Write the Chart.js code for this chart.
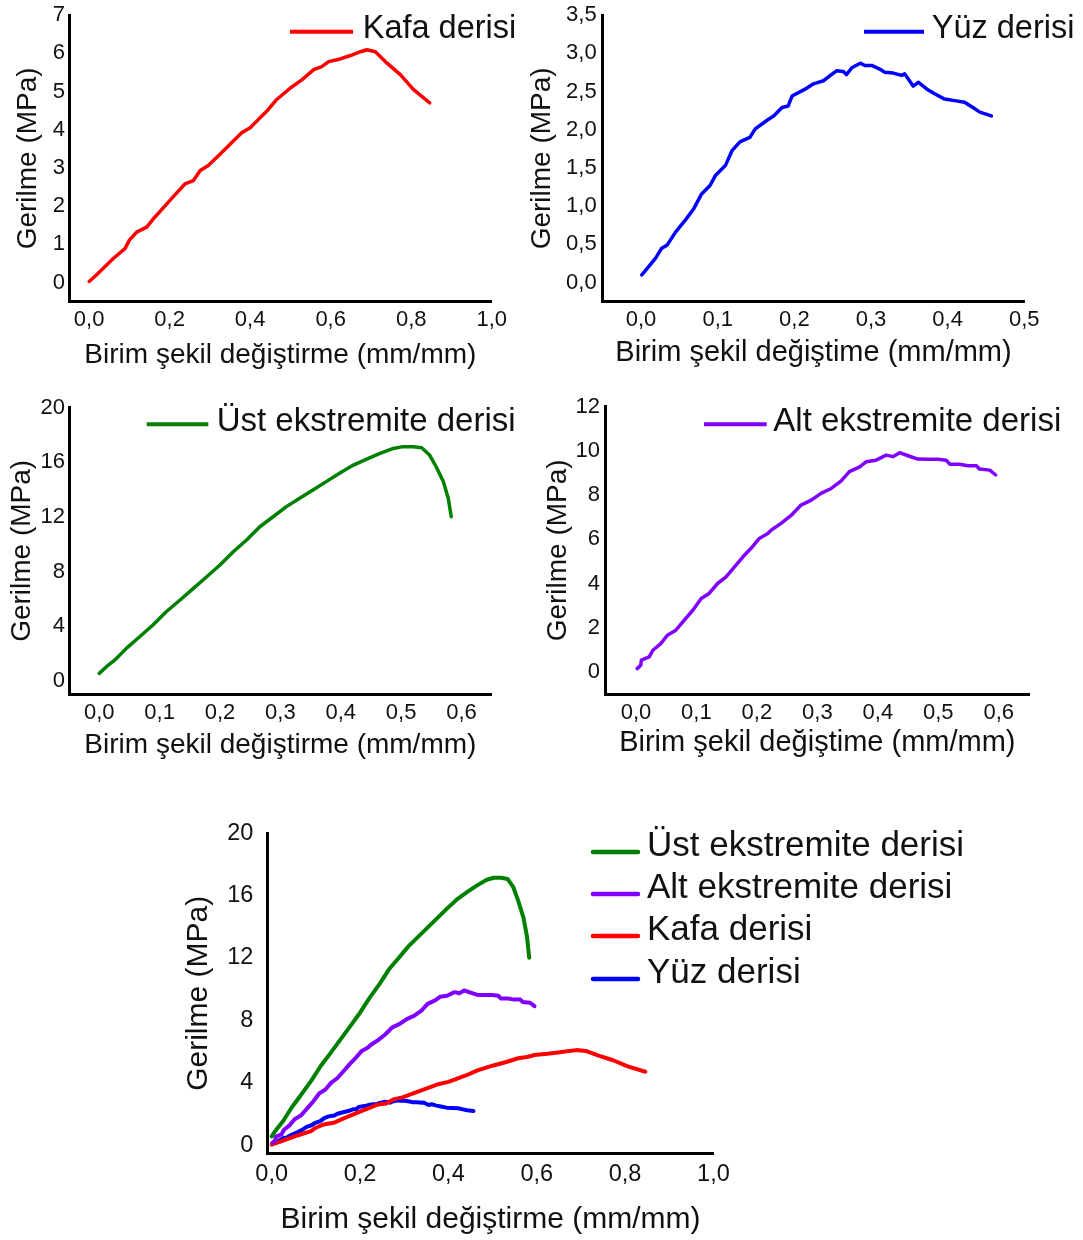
<!DOCTYPE html>
<html>
<head>
<meta charset="utf-8">
<script src="https://cdn.jsdelivr.net/npm/chart.js@4.4.1/dist/chart.umd.min.js"></script>
<style>
  html, body { margin: 0; padding: 0; background: #ffffff; }
  body { position: relative; width: 1083px; height: 1240px; overflow: hidden; }
  canvas { position: absolute; }
</style>
</head>
<body>
<canvas id="c1"></canvas>
<canvas id="c2"></canvas>
<canvas id="c3"></canvas>
<canvas id="c4"></canvas>
<canvas id="c5"></canvas>
<script>
// ---------------- DATA ----------------
const seriesNames = ['Kafa derisi', 'Yüz derisi', 'Üst ekstremite derisi', 'Alt ekstremite derisi'];

// Kafa derisi (scalp)
const kafaX = [0, 0.018, 0.06, 0.089, 0.10, 0.118, 0.143, 0.163, 0.193, 0.217, 0.238, 0.259, 0.276, 0.296, 0.325, 0.359, 0.379, 0.40, 0.417, 0.441, 0.466, 0.50, 0.529, 0.558, 0.578, 0.595, 0.624, 0.649, 0.674, 0.69, 0.711, 0.74, 0.773, 0.806, 0.846];
const kafaY = [0.03, 0.2, 0.63, 0.89, 1.11, 1.32, 1.45, 1.71, 2.06, 2.34, 2.58, 2.67, 2.93, 3.06, 3.36, 3.71, 3.92, 4.05, 4.23, 4.48, 4.79, 5.09, 5.31, 5.57, 5.65, 5.78, 5.85, 5.94, 6.04, 6.09, 6.04, 5.74, 5.44, 5.05, 4.70];

// Yüz derisi (face)
const yuzX = [0.001, 0.01, 0.019, 0.027, 0.034, 0.045, 0.058, 0.069, 0.079, 0.09, 0.097, 0.11, 0.119, 0.129, 0.142, 0.149, 0.164, 0.173, 0.184, 0.192, 0.197, 0.214, 0.225, 0.238, 0.247, 0.255, 0.264, 0.268, 0.275, 0.286, 0.292, 0.301, 0.312, 0.318, 0.329, 0.34, 0.344, 0.355, 0.362, 0.373, 0.383, 0.396, 0.409, 0.422, 0.433, 0.442, 0.457];
const yuzY = [0.10, 0.21, 0.32, 0.45, 0.49, 0.66, 0.82, 0.97, 1.16, 1.27, 1.40, 1.53, 1.73, 1.84, 1.90, 2.01, 2.12, 2.18, 2.29, 2.31, 2.44, 2.53, 2.60, 2.64, 2.71, 2.77, 2.76, 2.72, 2.81, 2.87, 2.84, 2.84, 2.79, 2.75, 2.74, 2.71, 2.73, 2.57, 2.62, 2.53, 2.47, 2.40, 2.38, 2.36, 2.29, 2.23, 2.18];

// Üst ekstremite derisi (upper extremity)
const ustX = [0, 0.012, 0.026, 0.045, 0.067, 0.089, 0.111, 0.134, 0.156, 0.178, 0.2, 0.222, 0.244, 0.266, 0.288, 0.31, 0.332, 0.354, 0.376, 0.398, 0.421, 0.443, 0.465, 0.487, 0.503, 0.52, 0.534, 0.547, 0.558, 0.57, 0.578, 0.583];
const ustY = [0.56, 1.05, 1.54, 2.39, 3.24, 4.10, 5.07, 5.93, 6.78, 7.63, 8.49, 9.46, 10.32, 11.29, 12.02, 12.76, 13.37, 13.98, 14.59, 15.20, 15.80, 16.24, 16.66, 17.02, 17.15, 17.15, 17.07, 16.54, 15.68, 14.59, 13.37, 12.02];

// Alt ekstremite derisi (lower extremity)
const altX = [0.002, 0.008, 0.009, 0.022, 0.028, 0.041, 0.052, 0.066, 0.08, 0.094, 0.108, 0.121, 0.135, 0.149, 0.163, 0.177, 0.19, 0.204, 0.218, 0.224, 0.24, 0.257, 0.273, 0.29, 0.306, 0.323, 0.339, 0.353, 0.37, 0.381, 0.397, 0.414, 0.425, 0.436, 0.45, 0.466, 0.483, 0.499, 0.513, 0.519, 0.535, 0.549, 0.563, 0.568, 0.585, 0.595];
const altY = [0.15, 0.30, 0.53, 0.68, 0.98, 1.28, 1.66, 1.89, 2.34, 2.79, 3.32, 3.55, 4.0, 4.30, 4.75, 5.21, 5.58, 6.04, 6.26, 6.42, 6.72, 7.09, 7.55, 7.77, 8.08, 8.30, 8.63, 9.06, 9.28, 9.51, 9.58, 9.81, 9.74, 9.92, 9.78, 9.63, 9.62, 9.62, 9.58, 9.40, 9.40, 9.33, 9.33, 9.18, 9.13, 8.91];

// Tick values and labels
const kafaXTicks = [0, 0.2, 0.4, 0.6, 0.8, 1.0];
const kafaXLabels = ['0,0', '0,2', '0,4', '0,6', '0,8', '1,0'];
const kafaYTicks = [0, 1, 2, 3, 4, 5, 6, 7];
const kafaYLabels = ['0', '1', '2', '3', '4', '5', '6', '7'];

const yuzXTicks = [0, 0.1, 0.2, 0.3, 0.4, 0.5];
const yuzXLabels = ['0,0', '0,1', '0,2', '0,3', '0,4', '0,5'];
const yuzYTicks = [0, 0.5, 1, 1.5, 2, 2.5, 3, 3.5];
const yuzYLabels = ['0,0', '0,5', '1,0', '1,5', '2,0', '2,5', '3,0', '3,5'];

const extXTicks = [0, 0.1, 0.2, 0.3, 0.4, 0.5, 0.6];
const extXLabels = ['0,0', '0,1', '0,2', '0,3', '0,4', '0,5', '0,6'];
const ustYTicks = [0, 4, 8, 12, 16, 20];
const ustYLabels = ['0', '4', '8', '12', '16', '20'];
const altYTicks = [0, 2, 4, 6, 8, 10, 12];
const altYLabels = ['0', '2', '4', '6', '8', '10', '12'];

const allXTicks = [0, 0.2, 0.4, 0.6, 0.8, 1.0];
const allXLabels = ['0,0', '0,2', '0,4', '0,6', '0,8', '1,0'];
const allYTicks = [0, 4, 8, 12, 16, 20];
const allYLabels = ['0', '4', '8', '12', '16', '20'];

const yTitle = 'Gerilme (MPa)';
const xTitleA = 'Birim şekil değiştirme (mm/mm)';
const xTitleB = 'Birim şekil değiştime (mm/mm)';

// ---------------- STYLE ----------------
const FONT = '"Liberation Sans", Arial, Helvetica, sans-serif';
const TEXT = '#111111';
const COLORS = { kafa: '#ff0000', yuz: '#0000ff', ust: '#008000', alt: '#8000ff' };

Chart.defaults.font.family = FONT;
Chart.defaults.color = TEXT;

function pts(xs, ys) { return xs.map((x, i) => ({ x: x, y: ys[i] })); }

function legendPlugin(items, cl, ct) {
  return {
    id: 'manualLegend',
    afterDraw(chart) {
      const ctx = chart.ctx;
      ctx.save();
      items.forEach(it => {
        const ds = chart.data.datasets[it.ds];
        ctx.strokeStyle = ds.borderColor;
        ctx.lineWidth = it.lw;
        ctx.lineCap = it.cap || 'butt';
        ctx.beginPath();
        ctx.moveTo(it.x1 - cl, it.ly - ct);
        ctx.lineTo(it.x2 - cl, it.ly - ct);
        ctx.stroke();
        ctx.fillStyle = TEXT;
        ctx.font = it.size + 'px ' + FONT;
        ctx.textBaseline = 'middle';
        ctx.textAlign = 'left';
        ctx.fillText(ds.label, it.tx - cl, it.ty - ct);
      });
      ctx.restore();
    }
  };
}

function makeChart(id, g, datasets, ax) {
  const [cl, ct, cw, ch] = g.canvas;
  const cv = document.getElementById(id);
  cv.width = cw; cv.height = ch;
  cv.style.left = cl + 'px'; cv.style.top = ct + 'px';
  cv.style.width = cw + 'px'; cv.style.height = ch + 'px';
  const [L, T, R, B] = g.area;
  const scaleLeft = g.yTitleX - g.yTitleSize / 2;
  const scaleBottom = g.xTitleY + g.xTitleSize / 2;
  const pad = { left: scaleLeft - cl, top: T - ct, right: cl + cw - R, bottom: ct + ch - scaleBottom };
  const yw = L - scaleLeft;
  const xh = scaleBottom - B;
  const xTickPad = g.xTickY - B - g.tickSize / 2;
  const yTickPad = L - g.yTickRight;

  return new Chart(cv, {
    type: 'line',
    data: { datasets: datasets },
    options: {
      responsive: false,
      animation: false,
      devicePixelRatio: 1,
      layout: { padding: pad },
      plugins: { legend: { display: false }, tooltip: { enabled: false } },
      elements: { point: { radius: 0 }, line: { tension: 0 } },
      scales: {
        x: {
          type: 'linear', position: 'bottom', bounds: 'data',
          min: ax.xMin, max: ax.xMax,
          grid: { display: false, drawTicks: false },
          border: { display: true, color: '#000000', width: g.axisW },
          afterBuildTicks: (s) => { s.ticks = ax.xTicks.map(v => ({ value: v })); },
          afterFit: (s) => { s.height = xh; },
          ticks: {
            autoSkip: false, maxRotation: 0, minRotation: 0, padding: xTickPad, color: TEXT,
            font: { size: g.tickSize, lineHeight: 1 },
            callback: (v, i) => ax.xLabels[i]
          },
          title: { display: true, text: ax.xTitle, color: TEXT, padding: 0, font: { size: g.xTitleSize, lineHeight: 1 } }
        },
        y: {
          type: 'linear', position: 'left', bounds: 'data',
          min: ax.yMin, max: ax.yMax,
          grid: { display: false, drawTicks: false },
          border: { display: true, color: '#000000', width: g.axisW },
          afterBuildTicks: (s) => { s.ticks = ax.yTicks.map(v => ({ value: v })); },
          afterFit: (s) => { s.width = yw; },
          ticks: {
            autoSkip: false, padding: yTickPad, color: TEXT,
            font: { size: g.tickSize, lineHeight: 1 },
            callback: (v, i) => ax.yLabels[i]
          },
          title: { display: true, text: yTitle, color: TEXT, padding: 0, font: { size: g.yTitleSize, lineHeight: 1 } }
        }
      }
    },
    plugins: [legendPlugin(g.legend, cl, ct)]
  });
}

function ds(label, color, xs, ys, w) {
  return { label: label, data: pts(xs, ys), borderColor: color, backgroundColor: color,
           borderWidth: w, pointRadius: 0, fill: false, borderJoinStyle: 'round', borderCapStyle: 'round' };
}

// ---------------- CHART 1: Kafa derisi ----------------
makeChart('c1', {
  canvas: [0, -10, 540, 395], area: [69, 15, 491.7, 301.7],
  yTitleX: 28, yTitleSize: 28, xTitleY: 355, xTitleSize: 28,
  tickSize: 22, xTickY: 320, yTickRight: 65, axisW: 3,
  legend: [{ ds: 0, x1: 290, x2: 353, ly: 31.7, tx: 362.7, ty: 29.5, size: 32.5, lw: 4 }]
}, [ds(seriesNames[0], COLORS.kafa, kafaX, kafaY, 3.5)],
{ xMin: -0.05, xMax: 1.0, yMin: -0.5, yMax: 7, xTicks: kafaXTicks, xLabels: kafaXLabels, yTicks: kafaYTicks, yLabels: kafaYLabels, xTitle: xTitleA });

// ---------------- CHART 2: Yüz derisi ----------------
makeChart('c2', {
  canvas: [520, -10, 563, 395], area: [602.7, 15, 1024.3, 301.7],
  yTitleX: 542, yTitleSize: 28, xTitleY: 353.3, xTitleSize: 29,
  tickSize: 22, xTickY: 320, yTickRight: 596.7, axisW: 3,
  legend: [{ ds: 0, x1: 864, x2: 924, ly: 31.7, tx: 931.7, ty: 29.5, size: 32.5, lw: 4 }]
}, [ds(seriesNames[1], COLORS.yuz, yuzX, yuzY, 3.5)],
{ xMin: -0.05, xMax: 0.5, yMin: -0.25, yMax: 3.5, xTicks: yuzXTicks, xLabels: yuzXLabels, yTicks: yuzYTicks, yLabels: yuzYLabels, xTitle: xTitleB });

// ---------------- CHART 3: Üst ekstremite derisi ----------------
makeChart('c3', {
  canvas: [0, 380, 540, 395], area: [69, 407.7, 491.7, 694],
  yTitleX: 22.7, yTitleSize: 28, xTitleY: 745, xTitleSize: 28,
  tickSize: 22, xTickY: 713, yTickRight: 65, axisW: 3,
  legend: [{ ds: 0, x1: 146.7, x2: 208.3, ly: 424.3, tx: 216.7, ty: 422, size: 33, lw: 4 }]
}, [ds(seriesNames[2], COLORS.ust, ustX, ustY, 3.5)],
{ xMin: -0.05, xMax: 0.65, yMin: -0.95, yMax: 20, xTicks: extXTicks, xLabels: extXLabels, yTicks: ustYTicks, yLabels: ustYLabels, xTitle: xTitleA });

// ---------------- CHART 4: Alt ekstremite derisi ----------------
makeChart('c4', {
  canvas: [520, 380, 563, 395], area: [605.7, 406.7, 1029, 694],
  yTitleX: 558, yTitleSize: 28, xTitleY: 743.3, xTitleSize: 29,
  tickSize: 22, xTickY: 713, yTickRight: 600, axisW: 3,
  legend: [{ ds: 0, x1: 704, x2: 766.7, ly: 424.3, tx: 773.3, ty: 421.5, size: 33, lw: 4 }]
}, [ds(seriesNames[3], COLORS.alt, altX, altY, 3.5)],
{ xMin: -0.05, xMax: 0.65, yMin: -1, yMax: 12, xTicks: extXTicks, xLabels: extXLabels, yTicks: altYTicks, yLabels: altYLabels, xTitle: xTitleB });

// ---------------- CHART 5: combined ----------------
makeChart('c5', {
  canvas: [150, 790, 900, 450], area: [267.7, 833.3, 713.4, 1153.3],
  yTitleX: 198.3, yTitleSize: 30, xTitleY: 1220, xTitleSize: 30,
  tickSize: 23.5, xTickY: 1175, yTickRight: 253.3, axisW: 3,
  legend: [
    { ds: 0, x1: 593, x2: 638, ly: 852, tx: 647, ty: 846, size: 35, lw: 4.5, cap: 'round' },
    { ds: 1, x1: 593, x2: 638, ly: 894, tx: 647, ty: 888, size: 35, lw: 4.5, cap: 'round' },
    { ds: 2, x1: 593, x2: 638, ly: 936, tx: 647, ty: 930, size: 35, lw: 4.5, cap: 'round' },
    { ds: 3, x1: 593, x2: 638, ly: 979, tx: 647, ty: 973, size: 35, lw: 4.5, cap: 'round' }
  ]
}, [
  ds(seriesNames[2], COLORS.ust, ustX, ustY, 4),
  ds(seriesNames[3], COLORS.alt, altX, altY, 4),
  ds(seriesNames[0], COLORS.kafa, kafaX, kafaY, 4),
  ds(seriesNames[1], COLORS.yuz, yuzX, yuzY, 4)
],
{ xMin: -0.009, xMax: 1.0, yMin: -0.53, yMax: 20, xTicks: allXTicks, xLabels: allXLabels, yTicks: allYTicks, yLabels: allYLabels, xTitle: xTitleA });
</script>
</body>
</html>
